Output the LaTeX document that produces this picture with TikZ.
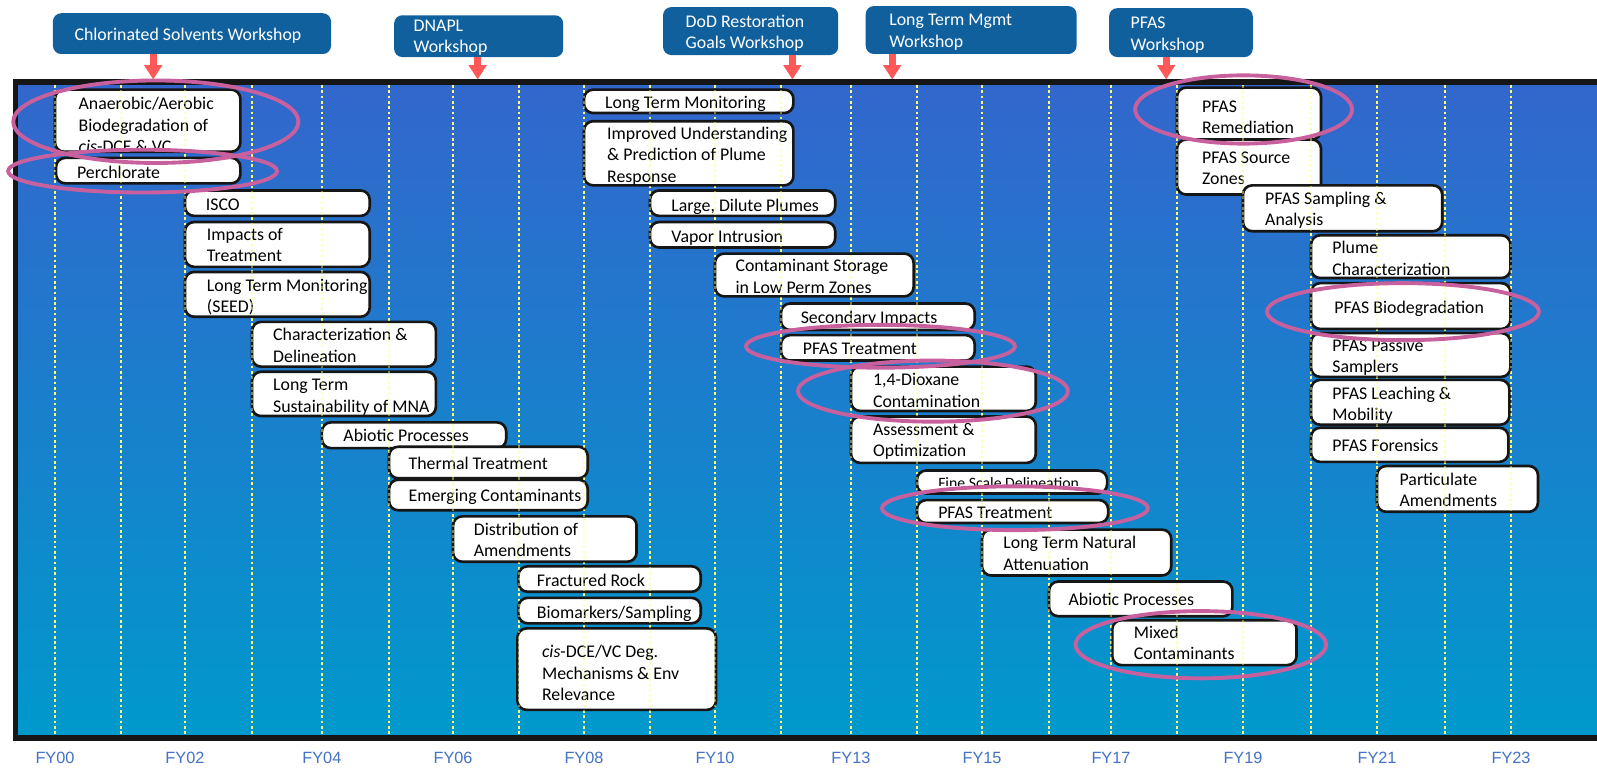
\documentclass[tikz,border=0pt]{standalone}
\usepackage{fontspec}
\setmainfont{Carlito}
\newfontfamily\fyfont{Liberation Sans}
\usetikzlibrary{arrows.meta}
\definecolor{wsblue}{RGB}{17,96,158}
\definecolor{redarrow}{RGB}{255,88,88}
\definecolor{ellcol}{RGB}{201,96,158}
\definecolor{bgtop}{RGB}{51,102,204}
\definecolor{bgbot}{RGB}{0,153,204}
\definecolor{dotyel}{RGB}{255,255,110}
\definecolor{fyblue}{RGB}{68,114,196}
\definecolor{frameblack}{RGB}{22,22,22}
\newcommand\sst{\rule[-4.6pt]{0pt}{15.8pt}}
\newcommand\tbx[8]{%
  \node[tbox, minimum width={(#4-#2)*1pt}, minimum height={(#5-#3)*1pt}] (#1) at ({(#2+#4)/2},{(#3+#5)/2}) {};
  \node[ttext] (#1-t) at (#6,#7) {#8};}
\newcommand\tbxc[9]{%
  \node[tbox, minimum width={(#4-#2)*1pt}, minimum height={(#5-#3)*1pt}] (#1) at ({(#2+#4)/2},{(#3+#5)/2}) {};
  \begin{scope}\clip (#2,#3) rectangle (#4,#9);
  \node[ttext] (#1-t) at (#6,#7) {#8};\end{scope}}
\newcommand\wsb[8]{%
  \node[wsbox, minimum width={(#4-#2)*1pt}, minimum height={(#5-#3)*1pt}] (#1) at ({(#2+#4)/2},{(#3+#5)/2}) {};
  \node[wstext] (#1-t) at (#6,#7) {#8};}
\tikzset{
  tbox/.style={draw=frameblack, line width=2.6pt, fill=white, rounded corners=9pt, inner sep=0pt, outer sep=0pt},
  ttext/.style={font=\fontsize{17.5}{21}\selectfont, inner sep=0pt, align=left, anchor=west, yshift=-3pt},
  wsbox/.style={fill=wsblue, rounded corners=8pt, inner sep=0pt, outer sep=0pt},
  wstext/.style={font=\fontsize{17.5}{21}\selectfont, text=white, inner sep=0pt, align=left, anchor=west, yshift=-3pt},
  warrow/.style={draw=redarrow, line width=7pt, -{Triangle[width=17pt,length=14pt]}},
  ring/.style={draw=ellcol, line width=3.8pt},
  yline/.style={draw=dotyel, line width=2.4pt, dash pattern=on 2.6pt off 2.6pt},
  fylabel/.style={font=\fyfont\fontsize{16}{16}\selectfont, text=fyblue, inner sep=0pt},
}
\begin{document}
\begin{tikzpicture}[x=1pt,y=-1pt]
\useasboundingbox (0,0) rectangle (1568,755);
\clip (0,0) rectangle (1568,755);
\fill[white] (0,0) rectangle (1568,755);
% frame background
\shade[top color=bgtop, bottom color=bgbot] (15,80.5) rectangle (1600,724.5);
\foreach \x in {54,118.8,181.6,247.4,316,382,444.8,509.6,573.4,638.2,702,766.8,835.5,900.3,964.2,1030,1090.8,1155.6,1220.4,1287.2,1352,1418.7,1483.6}
  \draw[yline] (\x,83.5) -- (\x,722);
% workshops
\wsb{ws1}{52}{13}{325}{53}{73}{33}{\sst Chlorinated Solvents Workshop}
\wsb{ws2}{387}{15}{553}{56}{406}{34.7}{\sst DNAPL\\\sst Workshop}
\wsb{ws3}{651}{7}{823}{54}{673}{30.6}{\sst DoD Restoration\\\sst Goals Workshop}
\wsb{ws4}{850}{6}{1057}{53}{873}{29.5}{\sst Long Term Mgmt\\\sst Workshop}
\wsb{ws5}{1089}{8}{1230}{56}{1110}{32.3}{\sst PFAS\\\sst Workshop}
\coordinate (a1) at (150.4,78);
\coordinate (a2) at (469,78);
\coordinate (a3) at (778,78);
\coordinate (a4) at (876,78);
\coordinate (a5) at (1145,78);
\draw[warrow] (ws1.south -| a1) -- (a1);
\draw[warrow] (ws2.south -| a2) -- (a2);
\draw[warrow] (ws3.south -| a3) -- (a3);
\draw[warrow] (ws4.south -| a4) -- (a4);
\draw[warrow] (ws5.south -| a5) -- (a5);
% column A
\tbxc{an}{54}{88}{236}{149}{77}{122}{\fontsize{17.5}{22}\selectfont\sst Anaerobic/Aerobic\\\sst Biodegradation of\\\sst \textit{cis}-DCE \& VC}{147}
\tbx{pc}{55}{155}{236}{180}{75.5}{168.5}{\sst Perchlorate}
\tbx{isco}{181.6}{187}{363}{212}{202}{200}{\sst ISCO}
\tbx{imp}{181.6}{218}{363}{262}{203}{239.5}{\sst Impacts of\\\sst Treatment}
\tbx{ltma}{181.6}{267}{363}{311}{203}{289.5}{\sst Long Term Monitoring\\\sst (SEED)}
\tbx{chr}{247.4}{316}{428}{360}{268}{338.5}{\sst Characterization \&\\\sst Delineation}
\tbx{lts}{247.4}{365}{428}{408.5}{268}{388}{\sst Long Term\\\sst Sustainability of MNA}
\tbx{abi}{316}{414.7}{497}{440}{337}{427}{\sst Abiotic Processes}
\tbx{thm}{382}{438.6}{577}{469.6}{401}{454}{\sst Thermal Treatment}
\tbx{emg}{382}{471}{577}{501}{401}{485.5}{\sst Emerging Contaminants}
\tbx{dis}{444.8}{507}{625}{551.5}{465}{529.5}{\sst Distribution of\\\sst Amendments}
\tbx{frk}{509}{556}{688}{581}{527}{569}{\sst Fractured Rock}
\tbx{bio}{509}{587}{688}{612}{527}{600}{\sst Biomarkers/Sampling}
\tbx{cis}{508}{617}{703}{697}{532}{660}{\sst \textit{cis}-DCE/VC Deg.\\\sst Mechanisms \& Env\\\sst Relevance}
% column B
\tbx{ltmb}{573.4}{88}{779}{111}{594}{100}{\sst Long Term Monitoring}
\tbx{imu}{573.4}{119}{779}{182}{596}{151}{\sst Improved Understanding\\\sst \& Prediction of Plume\\\sst Response}
\tbx{ldp}{638.2}{187}{820}{212}{659}{201}{\sst Large, Dilute Plumes}
\tbx{vap}{638.2}{218}{820}{243}{659}{231}{\sst Vapor Intrusion}
\tbx{cst}{702}{249}{897}{291}{722}{270.5}{\sst Contaminant Storage\\\sst in Low Perm Zones}
\tbxc{sec}{766.8}{298}{957}{324}{786}{311}{\sst Secondary Impacts}{320.5}
\tbx{pfta}{766.8}{329}{957}{354}{788}{342}{\sst PFAS Treatment}
\tbx{dio}{835.5}{360}{1017}{403.5}{857}{382.5}{\sst 1,4-Dioxane\\\sst Contamination}
\tbx{ass}{835.5}{409}{1017}{454.5}{857}{431}{\sst Assessment \&\\\sst Optimization}
\tbxc{fsd}{900.3}{462}{1087}{484.5}{921}{473}{\fontsize{15.5}{19}\selectfont\sst Fine Scale Delineation}{477}
\tbx{pftb}{900.3}{491}{1088}{513.5}{921}{503}{\sst PFAS Treatment}
\tbx{ltna}{964.2}{520}{1150}{565}{985}{542.5}{\sst Long Term Natural\\\sst Attenuation}
\tbx{abib}{1030}{571}{1210}{605}{1049}{588}{\sst Abiotic Processes}
\tbx{mix}{1092}{609}{1273}{653}{1113}{630.5}{\sst Mixed\\\sst Contaminants}
% column C
\tbx{pfr}{1155.6}{86}{1297}{137}{1180}{114.5}{\sst PFAS\\\sst Remediation}
\tbx{psz}{1155.6}{137}{1297}{191}{1180}{164.5}{\sst PFAS Source\\\sst Zones}
\tbx{psa}{1220.4}{182}{1416}{227}{1242}{204.5}{\sst PFAS Sampling \&\\\sst Analysis}
\tbx{plc}{1287.2}{231}{1483}{273}{1308}{253}{\sst Plume\\\sst Characterization}
\tbx{pbd}{1287.2}{278}{1483}{323}{1310}{301}{\sst PFAS Biodegradation}
\tbx{pps}{1287.2}{327}{1483}{370}{1308}{348.5}{\sst PFAS Passive\\\sst Samplers}
\tbx{plm}{1287.2}{373}{1482}{417}{1308}{396}{\sst PFAS Leaching \&\\\sst Mobility}
\tbx{pfo}{1287.2}{420}{1481}{453.5}{1308}{437}{\sst PFAS Forensics}
\tbx{par}{1352}{457.5}{1510}{502.5}{1374}{480}{\sst Particulate\\\sst Amendments}
% faint lines over boxes
\foreach \x in {54,118.8,181.6,247.4,316,382,444.8,509.6,573.4,638.2,702,766.8,835.5,900.3,964.2,1030,1090.8,1155.6,1220.4,1287.2,1352,1418.7,1483.6}
  \draw[yline, opacity=0.45] (\x,83.5) -- (\x,722);
% frame border
\draw[frameblack, line width=5.5pt, line join=miter] (1600,80.5) -- (15.2,80.5) -- (15.2,724.5) -- (1600,724.5);
% highlight rings
\draw[ring] (153,119.5) ellipse [x radius=140pt, y radius=40.5pt];
\draw[ring] (140,168) ellipse [x radius=132pt, y radius=21pt];
\draw[ring] (1221,107.5) ellipse [x radius=106.5pt, y radius=33.5pt];
\draw[ring] (864.5,340) ellipse [x radius=132pt, y radius=21pt];
\draw[ring] (916,384) ellipse [x radius=132.5pt, y radius=30pt];
\draw[ring] (996.5,499) ellipse [x radius=130.5pt, y radius=21.5pt];
\draw[ring] (1377.5,306) ellipse [x radius=133.5pt, y radius=28pt];
\draw[ring] (1179,633) ellipse [x radius=123pt, y radius=33pt];
% axis labels
\foreach \x/\t [count=\i] in {54/FY00,181.6/FY02,316/FY04,444.8/FY06,573.4/FY08,702/FY10,835.5/FY13,964.2/FY15,1090.8/FY17,1220.4/FY19,1352/FY21,1483.6/FY23}
  \node[fylabel] (fy\i) at (\x,744.5) {\t};
\end{tikzpicture}
\end{document}
